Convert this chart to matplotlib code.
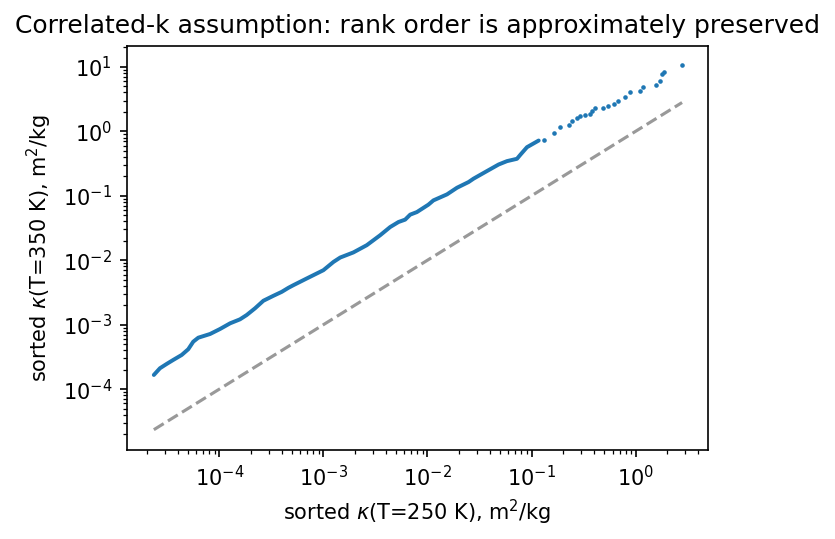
import matplotlib
matplotlib.use("Agg")
import matplotlib.pyplot as plt

# sorted opacities (dense part, drawn as a band)
k250_dense = [2.35e-5, 2.69e-5, 3.12e-5, 3.61e-5, 4.35e-5, 5.03e-5, 5.62e-5, 6.28e-5,
              8.15e-5, 1.016e-4, 1.27e-4, 1.58e-4, 1.83e-4, 2.20e-4, 2.65e-4, 3.30e-4,
              3.98e-4, 4.61e-4, 5.15e-4, 6.92e-4, 1.0e-3, 1.25e-3, 1.45e-3, 1.94e-3,
              2.61e-3, 3.51e-3, 4.38e-3, 5.26e-3, 6.10e-3, 6.82e-3, 7.91e-3, 1.02e-2,
              1.14e-2, 1.54e-2, 1.92e-2, 2.48e-2, 2.77e-2, 3.72e-2, 4.82e-2, 5.80e-2,
              7.24e-2, 7.79e-2, 9.03e-2, 0.117]
k350_dense = [1.66e-4, 2.11e-4, 2.46e-4, 2.84e-4, 3.39e-4, 4.16e-4, 5.45e-4, 6.28e-4,
              7.17e-4, 8.57e-4, 1.05e-3, 1.21e-3, 1.41e-3, 1.79e-3, 2.35e-3, 2.80e-3,
              3.23e-3, 3.73e-3, 4.10e-3, 5.21e-3, 7.00e-3, 9.41e-3, 1.10e-2, 1.32e-2,
              1.71e-2, 2.44e-2, 3.27e-2, 3.91e-2, 4.26e-2, 5.09e-2, 5.58e-2, 7.27e-2,
              8.47e-2, 0.105, 0.133, 0.163, 0.184, 0.241, 0.305, 0.344,
              0.374, 0.431, 0.566, 0.718]

# sparse tail, individual points
k250_tail = [0.132, 0.163, 0.189, 0.227, 0.245, 0.274, 0.290, 0.328, 0.361, 0.381,
             0.410, 0.486, 0.538, 0.624, 0.678, 0.784, 0.889, 1.09, 1.18, 1.58,
             1.70, 1.79, 1.88, 2.79]
k350_tail = [0.736, 0.945, 1.18, 1.25, 1.43, 1.59, 1.73, 1.79, 1.86, 2.07,
             2.27, 2.30, 2.44, 2.65, 2.95, 3.40, 4.07, 4.22, 4.80, 5.22,
             6.02, 7.73, 8.29, 10.5]

fig = plt.figure(figsize=(835 / 150, 539 / 150), dpi=150)
ax = fig.add_axes([0.1517, 0.1651, 0.6966, 0.7501])

ax.plot(k250_dense, k350_dense, '-', color='tab:blue', lw=1.9, solid_capstyle='round')
ax.plot(k250_tail, k350_tail, 'o', color='tab:blue', ms=1.2, lw=0)

# 1:1 reference line
lo = k250_dense[0]
hi = k250_tail[-1]
ax.plot([lo, hi], [lo, hi], '--', color='k', alpha=0.4)

ax.set_xscale('log')
ax.set_yscale('log')
ax.set_xlim(10 ** -4.89, 10 ** 0.698)
ax.set_ylim(10 ** -4.944, 10 ** 1.327)

ax.set_xlabel(r'sorted $\kappa$(T=250 K), m$^2$/kg')
ax.set_ylabel(r'sorted $\kappa$(T=350 K), m$^2$/kg')
ax.set_title('Correlated-k assumption: rank order is approximately preserved')

fig.savefig('out.png', dpi=150)
